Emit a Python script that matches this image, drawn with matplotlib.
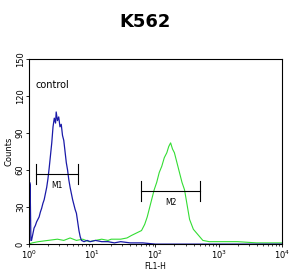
import matplotlib
matplotlib.use("Agg")
import matplotlib.pyplot as plt
import numpy as np

# log10(FL1-H) positions and counts
blue_logx = [0.0, 0.01, 0.018, 0.03, 0.04, 0.06, 0.08, 0.10, 0.12, 0.14, 0.16, 0.18, 0.20, 0.22,
             0.24, 0.26, 0.28, 0.30, 0.32, 0.34, 0.36, 0.38, 0.40, 0.42, 0.43, 0.45, 0.47, 0.49,
             0.51, 0.53, 0.55, 0.57, 0.59, 0.61, 0.63, 0.65, 0.67, 0.69, 0.71, 0.73, 0.75, 0.77,
             0.79, 0.81, 0.83, 0.87, 0.92, 0.97, 1.05, 1.15, 1.25, 1.35, 1.45, 1.6, 1.8, 2.0,
             2.5, 3.0, 3.5, 4.0]
blue_counts = [0, 50, 48, 3, 3, 8, 13, 15, 18, 20, 22, 26, 29, 33,
               36, 41, 46, 53, 62, 72, 82, 95, 102, 98, 107, 100, 103, 95,
               97, 88, 84, 75, 66, 60, 52, 46, 41, 36, 32, 28, 25, 18,
               11, 6, 3, 2, 3, 2, 3, 2, 2, 1, 2, 1, 1, 0,
               0, 0, 0, 0]

green_logx = [0.0, 0.05, 0.15, 0.3, 0.45, 0.55, 0.65, 0.75, 0.85, 0.95, 1.05, 1.15, 1.25, 1.3,
              1.45, 1.55, 1.62, 1.70, 1.78, 1.83, 1.87, 1.90, 1.94, 1.98, 2.02, 2.06, 2.10, 2.14,
              2.18, 2.21, 2.24, 2.27, 2.30, 2.34, 2.38, 2.42, 2.46, 2.50, 2.54, 2.60, 2.65, 2.70,
              2.75, 2.85, 3.0, 3.3, 3.6, 4.0]
green_counts = [0, 1, 2, 3, 4, 3, 5, 3, 4, 2, 3, 4, 3, 4,
                4, 5, 7, 9, 11, 16, 22, 28, 36, 44, 50, 58, 63, 70,
                74, 79, 82, 77, 74, 66, 58, 50, 44, 32, 20, 12, 9, 6,
                3, 2, 2, 2, 1, 1]

# marker gates: (name, left, right, y level)
gates = [("M1", 1.28, 6.0, 57), ("M2", 60, 500, 43)]

fig = plt.figure(figsize=(2.9, 2.79), dpi=100)
ax = fig.add_axes([0.1, 0.125, 0.872, 0.664])

ax.plot(10 ** np.array(green_logx), green_counts, color="#33dd33", lw=0.8)
ax.plot(10 ** np.array(blue_logx), blue_counts, color="#1a1aa8", lw=0.9)

for name, lo, hi, yv in gates:
    ax.plot([lo, hi], [yv, yv], color="black", lw=0.8)
    ax.plot([lo, lo], [yv - 8, yv + 8], color="black", lw=0.8)
    ax.plot([hi, hi], [yv - 8, yv + 8], color="black", lw=0.8)
    ax.text(np.sqrt(lo * hi), yv - 6, name, ha="center", va="top", fontsize=5.5)

ax.text(1.25, 129, "control", fontsize=7, va="center")

ax.set_xscale("log")
ax.set_xlim(1, 1e4)
ax.set_ylim(0, 150)
ax.set_yticks([0, 30, 60, 90, 120, 150])
ax.tick_params(axis="both", labelsize=6, length=2, width=0.6, pad=1)
ax.tick_params(axis="x", which="minor", length=1.5, width=0.5)
for lab in ax.get_yticklabels():
    lab.set_rotation(90)
    lab.set_va("center")
ax.set_xlabel("FL1-H", fontsize=5.5, labelpad=1)
ax.set_ylabel("Counts", fontsize=6, labelpad=2)
for s in ax.spines.values():
    s.set_linewidth(0.8)

fig.text(0.5, 0.92, "K562", ha="center", va="center", fontsize=13, fontweight="bold")

fig.savefig("out.png", dpi=100)
